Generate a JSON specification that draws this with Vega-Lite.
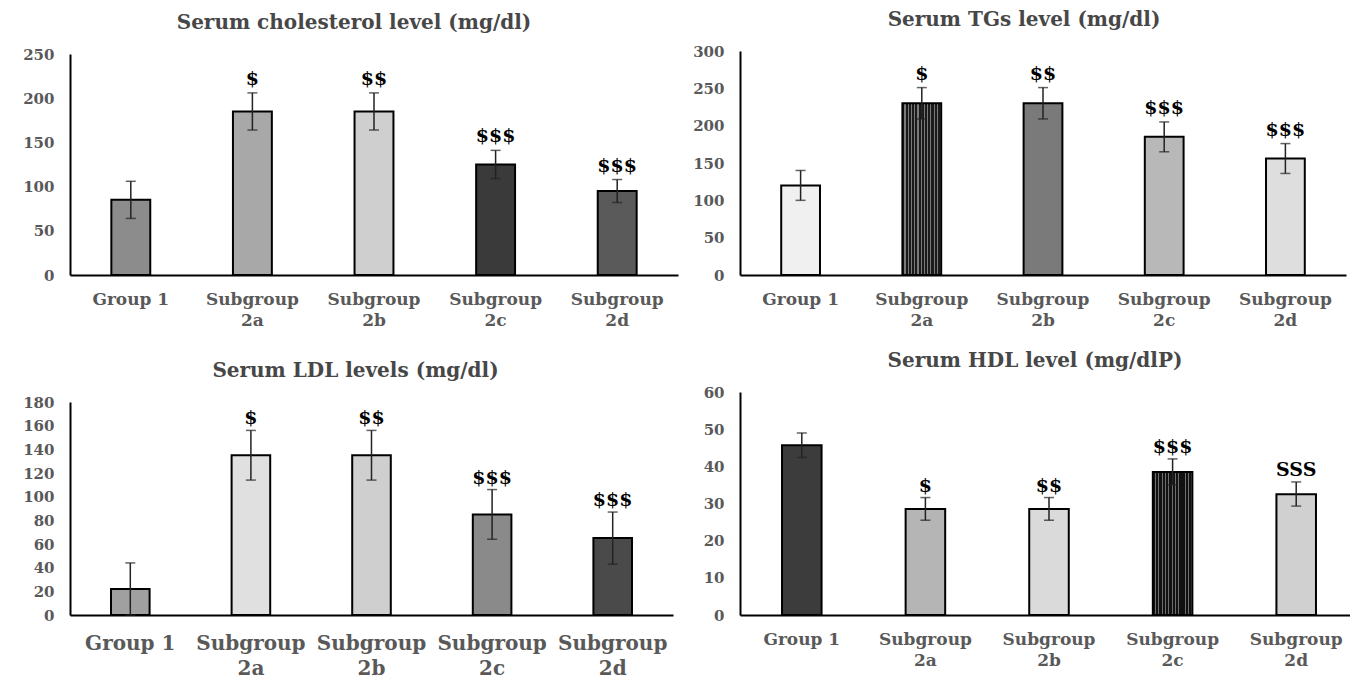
{
  "$schema": "https://vega.github.io/schema/vega-lite/v6.json",
  "background": "white",
  "padding": {"left": 22, "top": 10, "right": 0, "bottom": 0},
  "config": {
    "font": "DejaVu Serif",
    "view": {"stroke": null},
    "title": {"font": "DejaVu Serif", "fontWeight": "bold", "fontSize": 20, "color": "#474747", "anchor": "middle"},
    "axisY": {"domainColor": "black", "domainWidth": 2, "ticks": false, "grid": false, "labelOverlap": false, "labelPadding": 16, "labelFont": "DejaVu Serif", "labelFontWeight": "bold", "labelFontSize": 15, "labelColor": "#595959", "title": null},
    "axisX": {"domainColor": "black", "domainWidth": 2, "ticks": false, "grid": false, "labelOverlap": false, "labelAngle": 0, "labelPadding": 16, "labelFont": "DejaVu Serif", "labelFontWeight": "bold", "labelFontSize": 17, "labelColor": "#595959", "labelLineHeight": 21, "title": null, "labelExpr": "datum.label == 'Group 1' ? datum.label : split(datum.label, ' ')"}
  },
  "datasets": {
    "d": [
      {"panel": "chol", "group": "Group 1", "mean": 85, "lo": 64, "hi": 106, "label": ""},
      {"panel": "chol", "group": "Subgroup 2a", "mean": 185, "lo": 164, "hi": 206, "label": "$"},
      {"panel": "chol", "group": "Subgroup 2b", "mean": 185, "lo": 164, "hi": 206, "label": "$$"},
      {"panel": "chol", "group": "Subgroup 2c", "mean": 125, "lo": 109, "hi": 141, "label": "$$$"},
      {"panel": "chol", "group": "Subgroup 2d", "mean": 95, "lo": 82, "hi": 108, "label": "$$$"},
      {"panel": "tg", "group": "Group 1", "mean": 120, "lo": 100, "hi": 140, "label": ""},
      {"panel": "tg", "group": "Subgroup 2a", "mean": 230, "lo": 209, "hi": 251, "label": "$"},
      {"panel": "tg", "group": "Subgroup 2b", "mean": 230, "lo": 209, "hi": 251, "label": "$$"},
      {"panel": "tg", "group": "Subgroup 2c", "mean": 185, "lo": 165, "hi": 205, "label": "$$$"},
      {"panel": "tg", "group": "Subgroup 2d", "mean": 156, "lo": 136, "hi": 176, "label": "$$$"},
      {"panel": "ldl", "group": "Group 1", "mean": 22, "lo": 0, "hi": 44, "label": ""},
      {"panel": "ldl", "group": "Subgroup 2a", "mean": 135, "lo": 114, "hi": 156, "label": "$"},
      {"panel": "ldl", "group": "Subgroup 2b", "mean": 135, "lo": 114, "hi": 156, "label": "$$"},
      {"panel": "ldl", "group": "Subgroup 2c", "mean": 85, "lo": 64, "hi": 106, "label": "$$$"},
      {"panel": "ldl", "group": "Subgroup 2d", "mean": 65, "lo": 43, "hi": 87, "label": "$$$"},
      {"panel": "hdl", "group": "Group 1", "mean": 45.7, "lo": 42.4, "hi": 49, "label": ""},
      {"panel": "hdl", "group": "Subgroup 2a", "mean": 28.5, "lo": 25.5, "hi": 31.6, "label": "$"},
      {"panel": "hdl", "group": "Subgroup 2b", "mean": 28.5, "lo": 25.5, "hi": 31.6, "label": "$$"},
      {"panel": "hdl", "group": "Subgroup 2c", "mean": 38.5, "lo": 35, "hi": 42, "label": "$$$"},
      {"panel": "hdl", "group": "Subgroup 2d", "mean": 32.5, "lo": 29.3, "hi": 35.8, "label": "SSS"}
    ]
  },
  "data": {"name": "d"},
  "columns": 2,
  "bounds": "flush",
  "spacing": {"row": 117, "column": 62},
  "resolve": {"scale": {"x": "independent", "y": "independent", "fill": "independent"}},
  "concat": [
    {
      "width": 608, "height": 224,
      "title": {"text": "Serum cholesterol level (mg/dl)", "dx": -20, "offset": 14},
      "transform": [{"filter": "datum.panel == 'chol'"}],
      "encoding": {"x": {"field": "group", "type": "nominal", "sort": null, "scale": {"paddingInner": 0, "paddingOuter": 0}}},
      "layer": [
        {"mark": {"type": "bar", "stroke": "black", "strokeWidth": 2, "width": {"band": 0.32}},
         "encoding": {
           "y": {"field": "mean", "type": "quantitative", "scale": {"domain": [0, 250], "range": [224, 3], "nice": false}, "axis": {"values": [0, 50, 100, 150, 200, 250]}},
           "fill": {"field": "group", "type": "nominal", "legend": null, "scale": {"domain": ["Group 1", "Subgroup 2a", "Subgroup 2b", "Subgroup 2c", "Subgroup 2d"], "range": ["#8c8c8c", "#a8a8a8", "#cfcfcf", "#3a3a3a", "#5a5a5a"]}}}},
        {"mark": {"type": "rule", "color": "#222222", "strokeWidth": 1.5}, "encoding": {"y": {"field": "lo", "type": "quantitative", "axis": {"values": [0, 50, 100, 150, 200, 250]}}, "y2": {"field": "hi"}}},
        {"mark": {"type": "tick", "color": "#222222", "thickness": 1.5, "size": 10}, "encoding": {"y": {"field": "hi", "type": "quantitative", "axis": {"values": [0, 50, 100, 150, 200, 250]}}}},
        {"mark": {"type": "tick", "color": "#222222", "thickness": 1.5, "size": 10}, "encoding": {"y": {"field": "lo", "type": "quantitative", "axis": {"values": [0, 50, 100, 150, 200, 250]}}}},
        {"mark": {"type": "text", "font": "DejaVu Serif", "fontWeight": "bold", "fontSize": 19, "color": "black", "baseline": "alphabetic", "dy": -8}, "encoding": {"y": {"field": "hi", "type": "quantitative", "axis": {"values": [0, 50, 100, 150, 200, 250]}}, "text": {"field": "label"}}}
      ]
    },
    {
      "width": 606, "height": 224,
      "title": {"text": "Serum TGs level (mg/dl)", "dx": -19, "offset": 14},
      "transform": [{"filter": "datum.panel == 'tg'"}],
      "encoding": {"x": {"field": "group", "type": "nominal", "sort": null, "scale": {"paddingInner": 0, "paddingOuter": 0}}},
      "layer": [
        {"mark": {"type": "bar", "stroke": "black", "strokeWidth": 2, "width": {"band": 0.32}},
         "encoding": {
           "y": {"field": "mean", "type": "quantitative", "scale": {"domain": [0, 300], "nice": false}, "axis": {"values": [0, 50, 100, 150, 200, 250, 300]}},
           "fill": {"condition": {"test": "datum.group === 'Subgroup 2a'", "value":
             {"gradient": "linear", "x1": 0, "y1": 0, "x2": 1, "y2": 0, "stops": [
               {"offset": 0, "color": "#1a1a1a"}, {"offset": 0.0517, "color": "#1a1a1a"}, {"offset": 0.0517, "color": "#7a7a7a"}, {"offset": 0.0833, "color": "#7a7a7a"},
               {"offset": 0.0833, "color": "#1a1a1a"}, {"offset": 0.135, "color": "#1a1a1a"}, {"offset": 0.135, "color": "#7a7a7a"}, {"offset": 0.1667, "color": "#7a7a7a"},
               {"offset": 0.1667, "color": "#1a1a1a"}, {"offset": 0.2183, "color": "#1a1a1a"}, {"offset": 0.2183, "color": "#7a7a7a"}, {"offset": 0.25, "color": "#7a7a7a"},
               {"offset": 0.25, "color": "#1a1a1a"}, {"offset": 0.3017, "color": "#1a1a1a"}, {"offset": 0.3017, "color": "#7a7a7a"}, {"offset": 0.3333, "color": "#7a7a7a"},
               {"offset": 0.3333, "color": "#1a1a1a"}, {"offset": 0.385, "color": "#1a1a1a"}, {"offset": 0.385, "color": "#7a7a7a"}, {"offset": 0.4167, "color": "#7a7a7a"},
               {"offset": 0.4167, "color": "#1a1a1a"}, {"offset": 0.4683, "color": "#1a1a1a"}, {"offset": 0.4683, "color": "#7a7a7a"}, {"offset": 0.5, "color": "#7a7a7a"},
               {"offset": 0.5, "color": "#1a1a1a"}, {"offset": 0.5517, "color": "#1a1a1a"}, {"offset": 0.5517, "color": "#7a7a7a"}, {"offset": 0.5833, "color": "#7a7a7a"},
               {"offset": 0.5833, "color": "#1a1a1a"}, {"offset": 0.635, "color": "#1a1a1a"}, {"offset": 0.635, "color": "#7a7a7a"}, {"offset": 0.6667, "color": "#7a7a7a"},
               {"offset": 0.6667, "color": "#1a1a1a"}, {"offset": 0.7183, "color": "#1a1a1a"}, {"offset": 0.7183, "color": "#7a7a7a"}, {"offset": 0.75, "color": "#7a7a7a"},
               {"offset": 0.75, "color": "#1a1a1a"}, {"offset": 0.8017, "color": "#1a1a1a"}, {"offset": 0.8017, "color": "#7a7a7a"}, {"offset": 0.8333, "color": "#7a7a7a"},
               {"offset": 0.8333, "color": "#1a1a1a"}, {"offset": 0.885, "color": "#1a1a1a"}, {"offset": 0.885, "color": "#7a7a7a"}, {"offset": 0.9167, "color": "#7a7a7a"},
               {"offset": 0.9167, "color": "#1a1a1a"}, {"offset": 0.9683, "color": "#1a1a1a"}, {"offset": 0.9683, "color": "#7a7a7a"}, {"offset": 1, "color": "#7a7a7a"}]}},
             "field": "group", "type": "nominal", "legend": null, "scale": {"domain": ["Group 1", "Subgroup 2a", "Subgroup 2b", "Subgroup 2c", "Subgroup 2d"], "range": ["#f0f0f0", "#4a4a4a", "#7a7a7a", "#b8b8b8", "#dedede"]}}}},
        {"mark": {"type": "rule", "color": "#222222", "strokeWidth": 1.5}, "encoding": {"y": {"field": "lo", "type": "quantitative", "axis": {"values": [0, 50, 100, 150, 200, 250, 300]}}, "y2": {"field": "hi"}}},
        {"mark": {"type": "tick", "color": "#222222", "thickness": 1.5, "size": 10}, "encoding": {"y": {"field": "hi", "type": "quantitative", "axis": {"values": [0, 50, 100, 150, 200, 250, 300]}}}},
        {"mark": {"type": "tick", "color": "#222222", "thickness": 1.5, "size": 10}, "encoding": {"y": {"field": "lo", "type": "quantitative", "axis": {"values": [0, 50, 100, 150, 200, 250, 300]}}}},
        {"mark": {"type": "text", "font": "DejaVu Serif", "fontWeight": "bold", "fontSize": 19, "color": "black", "baseline": "alphabetic", "dy": -8}, "encoding": {"y": {"field": "hi", "type": "quantitative", "axis": {"values": [0, 50, 100, 150, 200, 250, 300]}}, "text": {"field": "label"}}}
      ]
    },
    {
      "width": 603, "height": 223,
      "title": {"text": "Serum LDL levels (mg/dl)", "dx": -16, "offset": 11},
      "transform": [{"filter": "datum.panel == 'ldl'"}],
      "encoding": {"x": {"field": "group", "type": "nominal", "sort": null, "scale": {"paddingInner": 0, "paddingOuter": 0}, "axis": {"labelFontSize": 20, "labelLineHeight": 25, "labelPadding": 18}}},
      "layer": [
        {"mark": {"type": "bar", "stroke": "black", "strokeWidth": 2, "width": {"band": 0.32}},
         "encoding": {
           "y": {"field": "mean", "type": "quantitative", "scale": {"domain": [0, 180], "range": [223, 10], "nice": false}, "axis": {"values": [0, 20, 40, 60, 80, 100, 120, 140, 160, 180]}},
           "fill": {"field": "group", "type": "nominal", "legend": null, "scale": {"domain": ["Group 1", "Subgroup 2a", "Subgroup 2b", "Subgroup 2c", "Subgroup 2d"], "range": ["#a0a0a0", "#e0e0e0", "#cfcfcf", "#8a8a8a", "#4a4a4a"]}}}},
        {"mark": {"type": "rule", "color": "#222222", "strokeWidth": 1.5}, "encoding": {"y": {"field": "lo", "type": "quantitative", "axis": {"values": [0, 20, 40, 60, 80, 100, 120, 140, 160, 180]}}, "y2": {"field": "hi"}}},
        {"mark": {"type": "tick", "color": "#222222", "thickness": 1.5, "size": 10}, "encoding": {"y": {"field": "hi", "type": "quantitative", "axis": {"values": [0, 20, 40, 60, 80, 100, 120, 140, 160, 180]}}}},
        {"mark": {"type": "tick", "color": "#222222", "thickness": 1.5, "size": 10}, "encoding": {"y": {"field": "lo", "type": "quantitative", "axis": {"values": [0, 20, 40, 60, 80, 100, 120, 140, 160, 180]}}}},
        {"mark": {"type": "text", "font": "DejaVu Serif", "fontWeight": "bold", "fontSize": 19, "color": "black", "baseline": "alphabetic", "dy": -6}, "encoding": {"y": {"field": "hi", "type": "quantitative", "axis": {"values": [0, 20, 40, 60, 80, 100, 120, 140, 160, 180]}}, "text": {"field": "label"}}}
      ]
    },
    {
      "width": 618, "height": 223,
      "title": {"text": "Serum HDL level (mg/dlP)", "dx": -14, "offset": 14},
      "transform": [{"filter": "datum.panel == 'hdl'"}],
      "encoding": {"x": {"field": "group", "type": "nominal", "sort": null, "scale": {"paddingInner": 0, "paddingOuter": 0}}},
      "layer": [
        {"mark": {"type": "bar", "stroke": "black", "strokeWidth": 2, "width": {"band": 0.32}},
         "encoding": {
           "y": {"field": "mean", "type": "quantitative", "scale": {"domain": [0, 60], "nice": false}, "axis": {"values": [0, 10, 20, 30, 40, 50, 60]}},
           "fill": {"condition": {"test": "datum.group === 'Subgroup 2c'", "value":
             {"gradient": "linear", "x1": 0, "y1": 0, "x2": 1, "y2": 0, "stops": [
               {"offset": 0, "color": "#111111"}, {"offset": 0.06, "color": "#111111"}, {"offset": 0.06, "color": "#6e6e6e"}, {"offset": 0.0833, "color": "#6e6e6e"},
               {"offset": 0.0833, "color": "#111111"}, {"offset": 0.1433, "color": "#111111"}, {"offset": 0.1433, "color": "#6e6e6e"}, {"offset": 0.1667, "color": "#6e6e6e"},
               {"offset": 0.1667, "color": "#111111"}, {"offset": 0.2267, "color": "#111111"}, {"offset": 0.2267, "color": "#6e6e6e"}, {"offset": 0.25, "color": "#6e6e6e"},
               {"offset": 0.25, "color": "#111111"}, {"offset": 0.31, "color": "#111111"}, {"offset": 0.31, "color": "#6e6e6e"}, {"offset": 0.3333, "color": "#6e6e6e"},
               {"offset": 0.3333, "color": "#111111"}, {"offset": 0.3933, "color": "#111111"}, {"offset": 0.3933, "color": "#6e6e6e"}, {"offset": 0.4167, "color": "#6e6e6e"},
               {"offset": 0.4167, "color": "#111111"}, {"offset": 0.4767, "color": "#111111"}, {"offset": 0.4767, "color": "#6e6e6e"}, {"offset": 0.5, "color": "#6e6e6e"},
               {"offset": 0.5, "color": "#111111"}, {"offset": 0.56, "color": "#111111"}, {"offset": 0.56, "color": "#6e6e6e"}, {"offset": 0.5833, "color": "#6e6e6e"},
               {"offset": 0.5833, "color": "#111111"}, {"offset": 0.6433, "color": "#111111"}, {"offset": 0.6433, "color": "#6e6e6e"}, {"offset": 0.6667, "color": "#6e6e6e"},
               {"offset": 0.6667, "color": "#111111"}, {"offset": 0.7267, "color": "#111111"}, {"offset": 0.7267, "color": "#6e6e6e"}, {"offset": 0.75, "color": "#6e6e6e"},
               {"offset": 0.75, "color": "#111111"}, {"offset": 0.81, "color": "#111111"}, {"offset": 0.81, "color": "#6e6e6e"}, {"offset": 0.8333, "color": "#6e6e6e"},
               {"offset": 0.8333, "color": "#111111"}, {"offset": 0.8933, "color": "#111111"}, {"offset": 0.8933, "color": "#6e6e6e"}, {"offset": 0.9167, "color": "#6e6e6e"},
               {"offset": 0.9167, "color": "#111111"}, {"offset": 0.9767, "color": "#111111"}, {"offset": 0.9767, "color": "#6e6e6e"}, {"offset": 1, "color": "#6e6e6e"}]}},
             "field": "group", "type": "nominal", "legend": null, "scale": {"domain": ["Group 1", "Subgroup 2a", "Subgroup 2b", "Subgroup 2c", "Subgroup 2d"], "range": ["#3c3c3c", "#b5b5b5", "#dadada", "#262626", "#d0d0d0"]}}}},
        {"mark": {"type": "rule", "color": "#222222", "strokeWidth": 1.5}, "encoding": {"y": {"field": "lo", "type": "quantitative", "axis": {"values": [0, 10, 20, 30, 40, 50, 60]}}, "y2": {"field": "hi"}}},
        {"mark": {"type": "tick", "color": "#222222", "thickness": 1.5, "size": 10}, "encoding": {"y": {"field": "hi", "type": "quantitative", "axis": {"values": [0, 10, 20, 30, 40, 50, 60]}}}},
        {"mark": {"type": "tick", "color": "#222222", "thickness": 1.5, "size": 10}, "encoding": {"y": {"field": "lo", "type": "quantitative", "axis": {"values": [0, 10, 20, 30, 40, 50, 60]}}}},
        {"mark": {"type": "text", "font": "DejaVu Serif", "fontWeight": "bold", "fontSize": 19, "color": "black", "baseline": "alphabetic", "dy": -6}, "encoding": {"y": {"field": "hi", "type": "quantitative", "axis": {"values": [0, 10, 20, 30, 40, 50, 60]}}, "text": {"field": "label"}}}
      ]
    }
  ]
}
